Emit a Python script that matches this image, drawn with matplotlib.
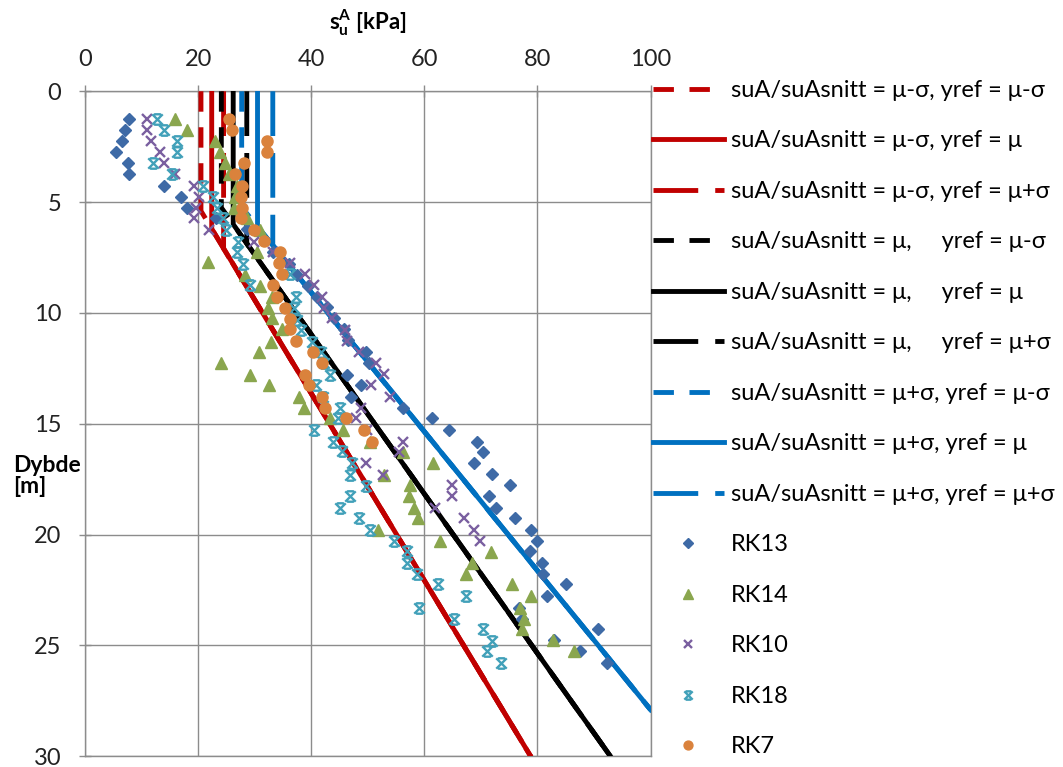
import numpy as np
import matplotlib
matplotlib.use('Agg')
import matplotlib.pyplot as plt
from matplotlib.path import Path

plt.rcParams['font.family'] = ['Lato', 'DejaVu Sans']
plt.rcParams['mathtext.fontset'] = 'custom'
plt.rcParams['mathtext.rm'] = 'Lato'
plt.rcParams['mathtext.bf'] = 'Lato:bold'

# --- design lines (x = su^A [kPa], z = depth [m])
line_labels = [
    'suA/suAsnitt = μ-σ, yref = μ-σ',
    'suA/suAsnitt = μ-σ, yref = μ',
    'suA/suAsnitt = μ-σ, yref = μ+σ',
    'suA/suAsnitt = μ,     yref = μ-σ',
    'suA/suAsnitt = μ,     yref = μ',
    'suA/suAsnitt = μ,     yref = μ+σ',
    'suA/suAsnitt = μ+σ, yref = μ-σ',
    'suA/suAsnitt = μ+σ, yref = μ',
    'suA/suAsnitt = μ+σ, yref = μ+σ',
]
line_x = [
    [20.5, 20.5, 78.8], [22.4, 22.4, 78.8], [24.5, 24.5, 78.8],
    [24.1, 24.1, 92.9], [26.2, 26.2, 92.9], [28.6, 28.6, 92.9],
    [27.7, 27.7, 100.0], [30.5, 30.5, 100.0], [33.2, 33.2, 100.0],
]
line_z = [
    [0, 5.4, 30], [0, 6.2, 30], [0, 7.1, 30],
    [0, 5.25, 30], [0, 6.0, 30], [0, 6.87, 30],
    [0, 5.23, 27.9], [0, 6.1, 27.9], [0, 6.94, 27.9],
]

# --- measured points
z13 = [1.23, 1.76, 2.25, 2.73, 3.23, 3.75, 4.26, 4.76, 5.26, 5.73, 6.22, 7.27, 7.77, 8.27, 8.77,
       9.27, 9.71, 10.24, 10.73, 11.22, 11.74, 12.27, 12.79, 13.24, 13.77, 14.3, 14.74, 15.27,
       15.8, 16.28, 16.77, 17.27, 17.75, 18.27, 18.8, 19.25, 19.77, 20.27, 20.75, 21.28, 21.8,
       22.25, 22.78, 23.3, 23.8, 24.28, 24.77, 25.26, 25.78]
x13 = [7.85, 7.1, 6.5, 5.5, 7.55, 7.85, 14.0, 16.9, 17.95, 23.2, 28.6, 33.2, 36.0, 37.5, 39.5,
       41.0, 42.7, 44.0, 45.8, 46.5, 49.6, 50.3, 46.3, 48.8, 47.1, 56.3, 61.4, 64.3,
       69.3, 70.4, 68.7, 72.0, 75.1, 71.5, 72.7, 76.1, 78.8, 79.9, 78.6, 80.8, 81.0,
       85.1, 81.7, 76.7, 77.3, 90.7, 82.9, 87.5, 92.3]

z14 = [1.23, 1.76, 2.25, 2.73, 3.23, 3.75, 4.26, 4.76, 5.26, 5.7, 6.26, 7.27, 7.72, 8.29, 8.77,
       9.27, 9.79, 10.24, 10.73, 11.29, 11.74, 12.27, 12.79, 13.24, 13.77, 14.3, 14.74, 15.27,
       15.8, 16.29, 16.77, 17.3, 17.75, 18.27, 18.8, 19.25, 19.77, 20.3, 20.8, 21.3, 21.8,
       22.25, 22.78, 23.3, 23.8, 24.28, 24.77, 25.26]
x14 = [15.9, 18.0, 23.0, 23.8, 24.7, 25.5, 26.8, 26.5, 26.4, 28.6, 31.0, 30.4, 21.8, 28.3, 31.0,
       33.0, 32.4, 33.0, 34.8, 32.9, 30.7, 24.1, 29.1, 32.5, 37.9, 38.8, 43.4, 45.7,
       50.4, 56.3, 61.5, 52.8, 57.5, 57.3, 58.1, 58.8, 51.8, 62.7, 71.8, 68.4, 67.4,
       75.5, 78.8, 77.0, 77.6, 77.3, 82.8, 86.4]

z10 = [1.23, 1.76, 2.25, 2.73, 3.23, 3.75, 4.26, 4.76, 5.26, 5.73, 6.26, 6.79, 7.27, 7.76, 8.24,
       8.74, 9.27, 9.79, 10.24, 10.75, 11.27, 11.74, 12.27, 12.75, 13.24, 13.77, 14.3, 14.74,
       15.27, 15.8, 16.27, 16.77, 17.3, 17.75, 18.27, 18.8, 19.25, 19.77, 20.27]
x10 = [10.9, 11.0, 11.6, 13.2, 14.0, 15.9, 19.2, 20.1, 19.6, 19.3, 22.0, 29.8, 33.3, 36.2, 38.9,
       40.4, 41.9, 42.3, 43.6, 46.0, 46.3, 48.5, 51.5, 52.8, 50.6, 53.9, 48.8, 48.0,
       49.9, 56.3, 55.6, 49.6, 52.7, 64.9, 64.9, 61.9, 67.0, 68.7, 69.9]

z18 = [1.23, 1.76, 2.25, 2.73, 3.23, 3.75, 4.26, 4.76, 5.26, 5.73, 6.26, 6.79, 7.27, 7.77, 8.24,
       8.74, 9.27, 9.79, 10.3, 10.77, 11.29, 11.74, 12.27, 12.79, 13.24, 13.77, 14.3, 14.74,
       15.27, 15.8, 16.25, 16.77, 17.3, 17.79, 18.27, 18.8, 19.25, 19.77, 20.3, 20.75, 21.28,
       21.8, 22.25, 22.78, 23.3, 23.8, 24.28, 24.8, 25.26, 25.78]
x18 = [12.7, 14.0, 16.3, 16.2, 12.1, 15.3, 20.9, 22.6, 23.3, 24.4, 25.0, 27.1, 26.8, 28.0, 36.3,
       29.2, 37.3, 37.0, 37.5, 38.1, 40.1, 41.8, 42.3, 43.4, 40.9, 42.0, 45.0, 44.8,
       40.4, 43.8, 45.4, 47.2, 46.8, 49.6, 46.8, 45.1, 48.5, 50.4, 54.6, 56.9, 57.0,
       58.7, 62.4, 67.3, 59.0, 65.2, 70.4, 72.0, 71.1, 73.6]

z7 = [1.23, 1.76, 2.25, 2.73, 3.23, 3.75, 4.26, 4.76, 5.26, 5.73, 6.26, 6.76, 7.26, 7.76, 8.24,
      8.74, 9.27, 9.79, 10.27, 10.73, 11.25, 11.74, 12.27, 12.79, 13.24, 13.77, 14.3, 14.74,
      15.27, 15.8]
x7 = [25.5, 26.0, 32.2, 32.2, 28.1, 26.5, 27.7, 27.6, 27.7, 27.6, 29.8, 31.7, 34.5, 34.3, 34.8,
      33.3, 34.0, 35.4, 36.2, 36.3, 37.3, 40.3, 41.9, 38.9, 39.6, 41.9, 42.4, 46.2,
      49.4, 50.7]

# styles
line_colors = ['#C00000'] * 3 + ['#000000'] * 3 + ['#0070C0'] * 3
dash = (0, (4.2, 3.2))
longdash = (0, (9.2, 3.5))
line_styles = [dash, '-', longdash] * 3

bowtie = Path([(-1, -1), (1, 1), (-1, 1), (1, -1), (-0.65, 1), (0.65, 1), (-0.65, -1), (0.65, -1)],
              [Path.MOVETO, Path.LINETO] * 4)

grid_col = '#8C8C8C'

fig = plt.figure(figsize=(10.63, 7.67), dpi=100)
ax = fig.add_axes([0.080, 0.014, 0.532, 0.867])

for xs, zs, lab, c, ls in zip(line_x, line_z, line_labels, line_colors, line_styles):
    ax.plot(xs, zs, color=c, lw=3.5, linestyle=ls, label=lab, zorder=3)

ax.plot(x13, z13, 'D', ms=6.5, color='#3E6AA6', ls='none', label='RK13', zorder=4)
ax.plot(x14, z14, '^', ms=8.5, color='#8AA64E', ls='none', label='RK14', zorder=4)
ax.plot(x10, z10, 'x', ms=7.0, mew=1.7, color='#7A5FA0', ls='none', label='RK10', zorder=4)
ax.plot(x18, z18, marker=bowtie, ms=7.5, mew=1.7, color='#41A0B9', mfc='none', ls='none',
        label='RK18', zorder=4)
ax.plot(x7, z7, 'o', ms=8.0, color='#DA823C', ls='none', label='RK7', zorder=4)

ax.set_xlim(0, 100)
ax.set_ylim(30, 0)
ax.set_xticks(np.arange(0, 101, 20))
ax.set_yticks(np.arange(0, 31, 5))
ax.xaxis.tick_top()
ax.xaxis.set_label_position('top')
ax.grid(True, color=grid_col, lw=1.0)
ax.set_axisbelow(True)
for s in ax.spines.values():
    s.set_color(grid_col)
    s.set_linewidth(1.0)
ax.tick_params(axis='both', direction='inout', length=8, width=1.0, color=grid_col,
               labelsize=17, labelcolor='#222222')
ax.tick_params(axis='x', pad=11)
ax.tick_params(axis='y', pad=13)

ax.set_xlabel(r'$\mathbf{s}_{\mathbf{u}}^{\mathbf{A}}$ [kPa]', fontsize=16, fontweight='bold',
              labelpad=14)
fig.text(13 / 1063, 1 - 476 / 767, 'Dybde\n[m]', fontsize=16.5, fontweight='bold',
         ha='left', va='center', multialignment='left', linespacing=1.05)

ax.legend(loc='upper left', bbox_to_anchor=(0.614, 0.896), bbox_transform=fig.transFigure,
          frameon=False, fontsize=17, handlelength=3.0, handletextpad=0.3,
          labelspacing=1.25, borderpad=0, borderaxespad=0, markerscale=0.8)

fig.savefig('out.png', dpi=100)
